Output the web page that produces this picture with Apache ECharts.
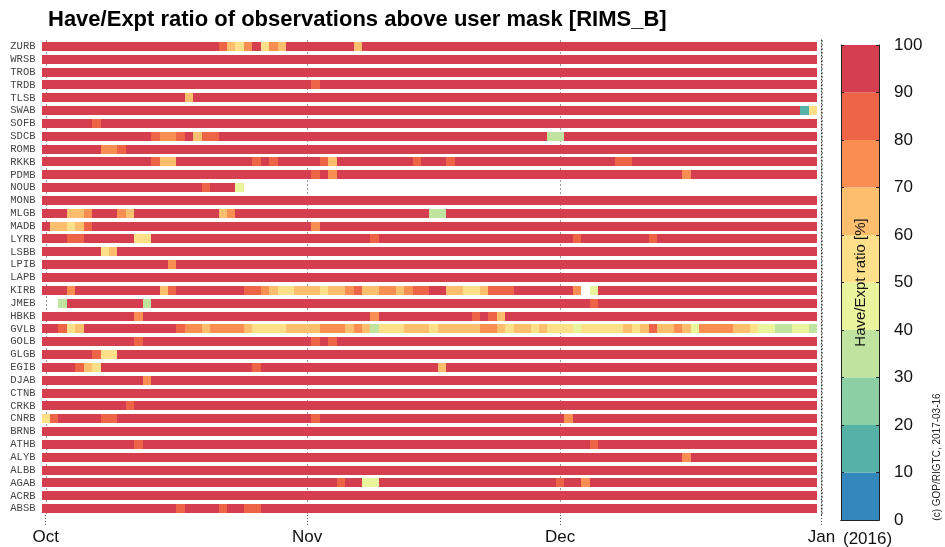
<!DOCTYPE html>
<html>
<head>
<meta charset="utf-8">
<script src="https://cdn.jsdelivr.net/npm/echarts@6/dist/echarts.min.js"></script>
<style>
  html, body { margin: 0; padding: 0; background: #fff; }
  #chart { width: 945px; height: 547px; }
</style>
</head>
<body>
<div id="chart"></div>
<script>
// Stations, listed bottom to top
const stations = ['ABSB','ACRB','AGAB','ALBB','ALYB','ATHB','BRNB','CNRB','CRKB','CTNB',
  'DJAB','EGIB','GLGB','GOLB','GVLB','HBKB','JMEB','KIRB','LAPB','LPIB',
  'LSBB','LYRB','MADB','MLGB','MONB','NOUB','PDMB','RKKB','ROMB','SDCB',
  'SOFB','SWAB','TLSB','TRDB','TROB','WRSB','ZURB'];

// Daily Have/Expt class per station, 1 Oct 2015 .. 31 Dec 2015 (92 days).
// Each character is the decile class: '9' = 90-100 %, '8' = 80-90 %, ... '0' = 0-10 %; '-' = no data.
// Groups of ten days are separated by spaces.
const dailyClass = [
  /* ABSB */ '9999999999 9999998999 9899889999 9999999999 9999999999 9999999999 9999999999 9999999999 9999999999 99',
  /* ACRB */ '9999999999 9999999999 9999999999 9999999999 9999999999 9999999999 9999999999 9999999999 9999999999 99',
  /* AGAB */ '9999999999 9999999999 9999999999 9999989944 9999999999 9999999999 9899799999 9999999999 9999999999 99',
  /* ALBB */ '9999999999 9999999999 9999999999 9999999999 9999999999 9999999999 9999999999 9999999999 9999999999 99',
  /* ALYB */ '9999999999 9999999999 9999999999 9999999999 9999999999 9999999999 9999999999 9999997999 9999999999 99',
  /* ATHB */ '9999999999 9899999999 9999999999 9999999999 9999999999 9999999999 9999989999 9999999999 9999999999 99',
  /* BRNB */ '9999999999 9999999999 9999999999 9999999999 9999999999 9999999999 9999999999 9999999999 9999999999 99',
  /* CNRB */ '5899999889 9999999999 9999999999 9989999999 9999999999 9999999999 9979999999 9999999999 9999999999 99',
  /* CRKB */ '9999999999 8999999999 9999999999 9999999999 9999999999 9999999999 9999999999 9999999999 9999999999 99',
  /* CTNB */ '9999999999 9999999999 9999999999 9999999999 9999999999 9999999999 9999999999 9999999999 9999999999 99',
  /* DJAB */ '9999999999 9979999999 9999999999 9999999999 9999999999 9999999999 9999999999 9999999999 9999999999 99',
  /* EGIB */ '9999865999 9999999999 9999989999 9999999999 9999999699 9999999999 9999999999 9999999999 9999999999 99',
  /* GLGB */ '9999998559 9999999999 9999999999 9999999999 9999999999 9999999999 9999999999 9999999999 9999999999 99',
  /* GOLB */ '9999999999 9899999999 9999999999 9989899999 9999999999 9999999999 9999999999 9999999999 9999999999 99',
  /* GVLB */ '9985699999 9999998776 7777655556 6667776763 5556665666 6677656656 5554555556 5686676477 7766544334 43',
  /* HBKB */ '9999999999 9799999999 9999999999 9999999997 9999999999 9898699999 9999999999 9999999999 9999999999 99',
  /* JMEB */ '--39999999 9939999999 9999999999 9999999999 9999999999 9999999999 9999989999 9999999999 9999999999 99',
  /* KIRB */ '9997999999 9999689999 9999887655 6665667866 7767889966 5568889999 9997-49999 9999999999 9999999999 99',
  /* LAPB */ '9999999999 9999999999 9999999999 9999999999 9999999999 9999999999 9999999999 9999999999 9999999999 99',
  /* LPIB */ '9999999999 9999979999 9999999999 9999999999 9999999999 9999999999 9999999999 9999999999 9999999999 99',
  /* LSBB */ '9999999569 9999999999 9999999999 9999999999 9999999999 9999999999 9999999999 9999999999 9999999999 99',
  /* LYRB */ '9998899999 9559999999 9999999999 9999999998 9999999999 9999999999 9998999999 9989999999 9999999999 99',
  /* MADB */ '9665689999 9999999999 9999999999 9979999999 9999999999 9999999999 9999999999 9999999999 9999999999 99',
  /* MLGB */ '9996679997 6999999999 9679999999 9999999999 9999993399 9999999999 9999999999 9999999999 9999999999 99',
  /* MONB */ '9999999999 9999999999 9999999999 9999999999 9999999999 9999999999 9999999999 9999999999 9999999999 99',
  /* NOUB */ '9999999999 9999999998 9994------ ---------- ---------- ---------- ---------- ---------- ---------- --',
  /* PDMB */ '9999999999 9999999999 9999999999 9989799999 9999999999 9999999999 9999999999 9999997999 9999999999 99',
  /* RKKB */ '9999999999 9998669999 9999989899 9998699999 9999899989 9999999999 9999999988 9999999999 9999999999 99',
  /* ROMB */ '9999999778 9999999999 9999999999 9999999999 9999999999 9999999999 9999999999 9999999999 9999999999 99',
  /* SDCB */ '9999999999 9998778968 8999999999 9999999999 9999999999 9999999999 3399999999 9999999999 9999999999 99',
  /* SOFB */ '9999998999 9999999999 9999999999 9999999999 9999999999 9999999999 9999999999 9999999999 9999999999 99',
  /* SWAB */ '9999999999 9999999999 9999999999 9999999999 9999999999 9999999999 9999999999 9999999999 9999999999 15',
  /* TLSB */ '9999999999 9999999699 9999999999 9999999999 9999999999 9999999999 9999999999 9999999999 9999999999 99',
  /* TRDB */ '9999999999 9999999999 9999999999 9989999999 9999999999 9999999999 9999999999 9999999999 9999999999 99',
  /* TROB */ '9999999999 9999999999 9999999999 9999999999 9999999999 9999999999 9999999999 9999999999 9999999999 99',
  /* WRSB */ '9999999999 9999999999 9999999999 9999999999 9999999999 9999999999 9999999999 9999999999 9999999999 99',
  /* ZURB */ '9999999999 9999999999 9865795769 9999999699 9999999999 9999999999 9999999999 9999999999 9999999999 99'
];

// Month ticks: day offset from 1 Oct 2015
const monthDays = [0, 31, 61, 92];
const monthNames = ['Oct', 'Nov', 'Dec', 'Jan'];

// Colour scale, classes 0-10 % .. 90-100 %
const classColors = ['#3288bd', '#56b1a7', '#8ccfa4', '#c0e4a0', '#e9f59c',
                     '#fee08b', '#fdbe6e', '#f98e52', '#ed6546', '#d53e4f'];
const scaleTicks = [0, 10, 20, 30, 40, 50, 60, 70, 80, 90, 100];

const cells = [];
dailyClass.forEach((row, r) => {
  row.replace(/ /g, '').split('').forEach((c, d) => {
    if (c !== '-') cells.push([d, r, Number(c) * 10 + 5]);
  });
});

const chart = echarts.init(document.getElementById('chart'), null, { renderer: 'canvas' });

const pieces = classColors.map((color, i) =>
  i === classColors.length - 1
    ? { gte: scaleTicks[i], lte: scaleTicks[i + 1], color }
    : { gte: scaleTicks[i], lt: scaleTicks[i + 1], color });

const colorbarSeries = classColors.map((color, i) => ({
  type: 'bar',
  xAxisIndex: 1,
  yAxisIndex: 3,
  stack: 'scale',
  silent: true,
  barWidth: '100%',
  itemStyle: { color },
  data: [scaleTicks[i + 1] - scaleTicks[i]]
}));

chart.setOption({
  animation: false,
  backgroundColor: '#fff',
  textStyle: { fontFamily: 'Liberation Sans' },
  title: {
    text: 'Have/Expt ratio of observations above user mask [RIMS_B]',
    left: 43,
    top: 4,
    textStyle: { fontSize: 22, fontWeight: 'bold', color: '#000', fontFamily: 'Liberation Sans' }
  },
  visualMap: {
    type: 'piecewise',
    show: false,
    seriesIndex: 0,
    dimension: 2,
    pieces
  },
  grid: [
    { left: 41.5, top: 40, width: 780, height: 475 },
    { left: 841, top: 45, width: 38, height: 475 }
  ],
  xAxis: [
    {
      gridIndex: 0,
      type: 'value',
      min: -0.5,
      max: 92,
      axisLine: { show: false },
      splitLine: { show: false },
      axisTick: {
        show: true,
        customValues: monthDays,
        length: 10,
        lineStyle: { color: '#555', type: [1, 2] }
      },
      axisLabel: {
        customValues: monthDays,
        formatter: v => monthNames[monthDays.indexOf(v)],
        fontSize: 17,
        color: '#111',
        margin: 14
      }
    },
    {
      gridIndex: 1, type: 'category', data: [''], z: 10,
      axisLine: { show: true, lineStyle: { color: '#222' } },
      axisTick: { show: false }, axisLabel: { show: false }
    },
    {
      gridIndex: 1, type: 'category', data: [''], position: 'top', z: 10,
      axisLine: { show: true, lineStyle: { color: '#222' } },
      axisTick: { show: false }, axisLabel: { show: false }
    }
  ],
  yAxis: [
    {
      gridIndex: 0,
      type: 'category',
      data: stations,
      axisLine: { show: false },
      axisTick: { show: false },
      axisLabel: { interval: 0, fontFamily: 'Liberation Mono', fontSize: 10.5, color: '#444', margin: 6 }
    },
    {
      gridIndex: 0,
      type: 'category',
      data: stations,
      position: 'right',
      z: 10,
      axisLine: { show: true, lineStyle: { color: '#333', type: [1, 2] } },
      axisTick: { show: false },
      axisLabel: { show: false }
    },
    {
      gridIndex: 1,
      type: 'value',
      min: 0, max: 100, interval: 10,
      position: 'left',
      z: 10,
      name: 'Have/Expt ratio [%]',
      nameLocation: 'middle',
      nameRotate: 90,
      nameGap: -27,
      nameTextStyle: { fontSize: 15, color: '#111' },
      axisLine: { show: true, lineStyle: { color: '#222' } },
      axisTick: { show: true, inside: true, length: 3, lineStyle: { color: '#222' } },
      axisLabel: { show: false },
      splitLine: { show: false }
    },
    {
      gridIndex: 1,
      type: 'value',
      min: 0, max: 100, interval: 10,
      position: 'right',
      z: 10,
      axisLine: { show: true, lineStyle: { color: '#222' } },
      axisTick: { show: true, inside: true, length: 3, lineStyle: { color: '#222' } },
      axisLabel: { fontSize: 17, color: '#111', margin: 15 },
      splitLine: { show: false }
    }
  ],
  series: [
    {
      // daily cells
      type: 'custom',
      xAxisIndex: 0,
      yAxisIndex: 0,
      z: 3,
      data: cells,
      renderItem: (params, api) => {
        const d = api.value(0);
        const r = api.value(1);
        const a = api.coord([d - 0.5, r]);
        const b = api.coord([d + 0.5, r]);
        const x0 = Math.round(a[0]);
        const x1 = Math.round(b[0]);
        const y0 = Math.round(a[1] - 4.5);
        return {
          type: 'rect',
          shape: { x: x0, y: y0, width: x1 - x0, height: 9 },
          style: { fill: api.visual('color') }
        };
      }
    },
    {
      // month grid lines, behind the cells
      type: 'custom',
      xAxisIndex: 0,
      yAxisIndex: 0,
      z: 1,
      silent: true,
      data: monthDays.map(v => [v, 0]),
      renderItem: (params, api) => {
        const x = Math.round(api.coord([api.value(0), 0])[0]) + 0.5;
        const cs = params.coordSys;
        return {
          type: 'line',
          shape: { x1: x, y1: cs.y, x2: x, y2: cs.y + cs.height },
          style: { stroke: '#999', lineWidth: 1, lineDash: [2, 2] }
        };
      }
    },
    ...colorbarSeries
  ],
  graphic: [
    {
      type: 'text',
      x: 843, y: 539,
      style: { text: '(2016)', font: '17px "Liberation Sans"', fill: '#111', align: 'left', verticalAlign: 'middle' }
    },
    {
      type: 'text',
      x: 937, y: 457,
      rotation: Math.PI / 2,
      style: { text: '(c) GOP/RIGTC, 2017-03-16', font: '10px "Liberation Sans"', fill: '#222', align: 'center', verticalAlign: 'middle' }
    }
  ]
});
</script>
</body>
</html>
